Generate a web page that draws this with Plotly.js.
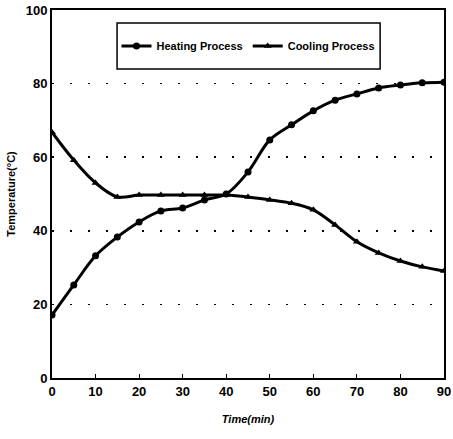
<!DOCTYPE html>
<html><head><meta charset="utf-8">
<script src="https://cdn.plot.ly/plotly-3.0.1.min.js"></script>
<style>body{margin:0;background:#fff}#c{width:453px;height:439px}</style>
</head><body><div id="c"></div>
<script>
const time = [0,5,10,15,20,25,30,35,40,45,50,55,60,65,70,75,80,85,90];
const heating = [17.1,25.3,33.2,38.3,42.4,45.4,46.2,48.4,50,56,64.7,68.8,72.6,75.5,77.2,78.8,79.6,80.2,80.4];
const cooling = [66.8,59.2,53,49.2,49.7,49.7,49.7,49.7,49.7,49.2,48.4,47.5,45.7,41.6,37,34,31.8,30.2,29.1];
const xTicks = [0,10,20,30,40,50,60,70,80,90];
const yTicks = [0,20,40,60,80,100];

const font = {family:'"Liberation Sans", Arial, sans-serif', color:'#000'};
const traces = [
  {x:time, y:heating, name:'Heating Process', mode:'lines+markers',
   line:{color:'#000', width:3, shape:'spline'},
   marker:{symbol:'circle', size:7, color:'#000'}},
  {x:time, y:cooling, name:'Cooling Process', mode:'lines+markers',
   line:{color:'#000', width:3, shape:'spline'},
   marker:{symbol:'triangle-up', size:7, color:'#000'}}
];
const layout = {
  width:453, height:439,
  margin:{l:52, r:9, t:10, b:61},
  paper_bgcolor:'#fff', plot_bgcolor:'#fff',
  font:{...font, size:11},
  showlegend:true,
  legend:{orientation:'h', x:0.5, y:0.902, xanchor:'center', yanchor:'middle',
    borderwidth:0, bgcolor:'rgba(0,0,0,0)',
    font:{...font, size:11, weight:'bold'}, itemwidth:30},
  shapes:[{type:'rect', xref:'paper', yref:'paper', x0:0.166, x1:0.837, y0:0.84, y1:0.965,
    line:{color:'#000', width:1.5}, fillcolor:'#fff', layer:'above'}],
  xaxis:{range:[0,90], tickvals:xTicks, ticktext:xTicks.map(String),
    showgrid:false, zeroline:false, showline:true, linecolor:'#000', linewidth:2,
    mirror:true, ticks:'inside', ticklen:4, tickcolor:'#000',
    tickfont:{...font, size:13, weight:'bold'},
    title:{text:'<i>Time(min)</i>', font:{...font, size:11, weight:'bold'}, standoff:18}},
  yaxis:{range:[0,100], tickvals:yTicks, ticktext:yTicks.map(String),
    showgrid:true, gridcolor:'#000', gridwidth:1.5, griddash:'2px,16px',
    zeroline:false, showline:true, linecolor:'#000', linewidth:2,
    mirror:true, ticks:'', tickfont:{...font, size:13, weight:'bold'},
    title:{text:'Temperature(°C)', font:{...font, size:11, weight:'bold'}, standoff:8}}
};
Plotly.newPlot('c', traces, layout, {displayModeBar:false, staticPlot:true});
</script></body></html>
